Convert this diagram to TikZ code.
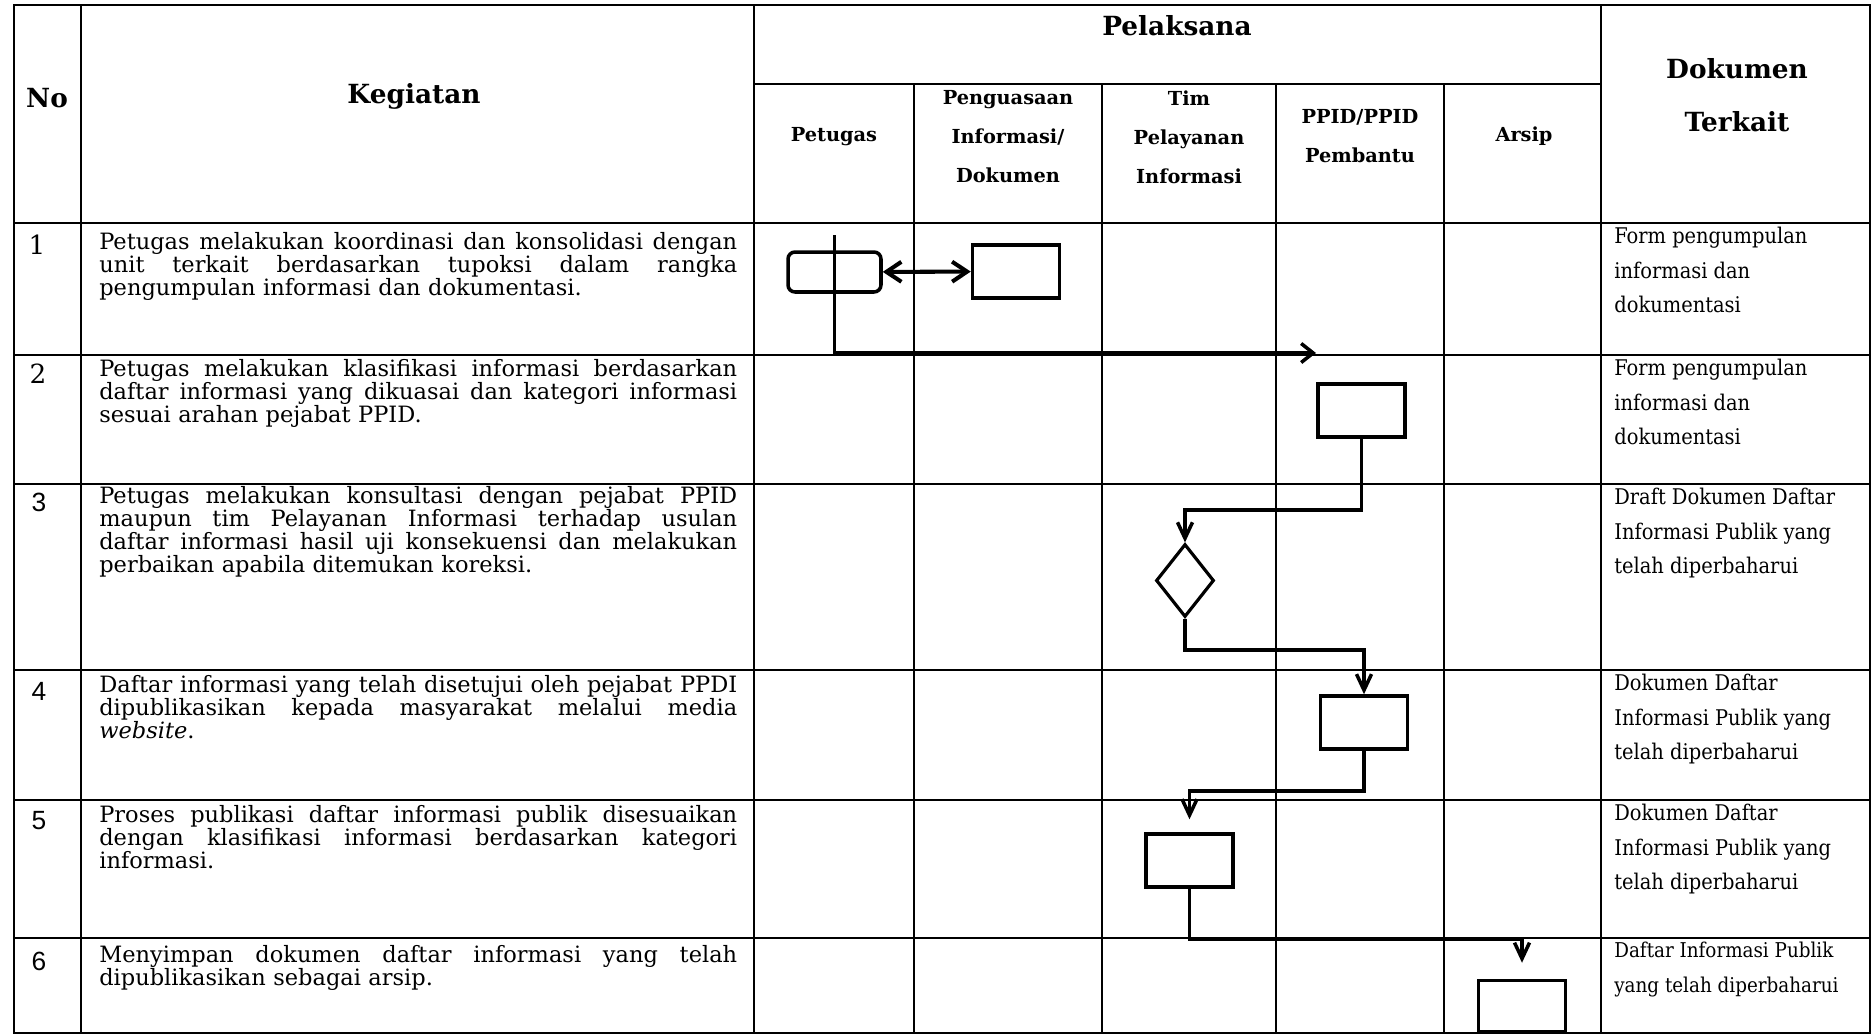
\documentclass[tikz,border=0pt]{standalone}
\usepackage{fontspec}
\setmainfont{DejaVu Serif}
\newfontfamily\docfont{DejaVu Serif Condensed}
\newfontfamily\numfont{Liberation Sans}
\usetikzlibrary{shapes.geometric}
\usetikzlibrary{arrows.meta}
\usetikzlibrary{positioning}

\newcommand{\fullline}[1]{\makebox[12.76cm][s]{\spaceskip=0pt\xspaceskip=0pt\relax #1}\\}

\begin{document}
\begin{tikzpicture}[x=0.02cm, y=-0.02cm]
	\tikzset{gridline/.style = {line width=0.9pt}}
	\tikzset{rowline/.style = {line width=1.3pt}}
	\tikzset{procbox/.style = {shape=rectangle, draw, line width=2pt,
			minimum width=1.74cm, minimum height=1.06cm, inner sep=0pt}}
	\tikzset{startbox/.style = {procbox, rounded corners=4pt,
			minimum width=1.86cm, minimum height=0.8cm}}
	\tikzset{decision/.style = {shape=diamond, draw, line width=1.8pt,
			minimum width=1.16cm, minimum height=1.46cm, inner sep=0pt}}
	\tikzset{flow/.style = {-{Straight Barb[length=3.2mm, width=3mm]}, line width=2pt}}
	\tikzset{flowbi/.style = {{Straight Barb[length=3mm, width=4mm]}-{Straight Barb[length=3mm, width=4mm]},
			line width=2.3pt}}
	\tikzset{head/.style = {font=\fontsize{15}{30}\selectfont\bfseries, align=center}}
	\tikzset{subhead/.style = {font=\fontsize{11}{22.2}\selectfont\bfseries, align=center}}
	\tikzset{task/.style = {anchor=north west, inner sep=0pt, text width=12.76cm,
			align=left, font=\fontsize{12.8}{13.1}\selectfont}}
	\tikzset{doc/.style = {anchor=north west, inner sep=0pt, align=left,
			font=\docfont\fontsize{12.3}{19.6}\selectfont}}
	\tikzset{num/.style = {font=\fontsize{15}{15}\selectfont}}
	\tikzset{numsans/.style = {font=\numfont\fontsize{15}{15}\selectfont}}
	
	\useasboundingbox (0,0) rectangle (1874,1035);
	\fill[white] (0,0) rectangle (1874,1035);
	
	% table
	\draw[rowline] (14,5) rectangle (1870,1033);
	\draw[gridline] (754,84) -- (1601,84);
	\foreach \x in {81,754,1601} \draw[rowline] (\x,5) -- (\x,1033);
	\foreach \x in {914,1102,1276,1444} \draw[gridline] (\x,84) -- (\x,1033);
	\foreach \y in {223,355,484,670,800,938} \draw[rowline] (14,\y) -- (1870,\y);
	
	% header
	\node[head] (hno) at (47,98) {No};
	\node[head] (hkeg) at (414,96) {Kegiatan};
	\node[head] (hpel) at (1177,26) {Pelaksana};
	\node[head] (hdok) at (1737,95) {Dokumen\\Terkait};
	\node[subhead] (hpet) at (834,137) {Petugas};
	\node[subhead] (hpen) at (1008,137) {Penguasaan\\Informasi/\\Dokumen};
	\node[subhead] (htim) at (1189,137) {Tim\\Pelayanan\\Informasi};
	\node[subhead] (hppid) at (1360,136) {PPID/PPID\\Pembantu};
	\node[subhead] (hars) at (1524,136) {Arsip};
	
	% rows
	\node[num] (n1) at (37,245) {1};
	\node[num] (n2) at (38,374) {2};
	\node[numsans] (n3) at (39,502) {3};
	\node[numsans] (n4) at (39,691) {4};
	\node[numsans] (n5) at (39,821) {5};
	\node[numsans] (n6) at (39,961) {6};
	
	\node[task] (t1) at (99,232) {\fullline{Petugas melakukan koordinasi dan konsolidasi dengan}%
		\fullline{unit terkait berdasarkan tupoksi dalam rangka}%
		pengumpulan informasi dan dokumentasi.};
	\node[task] (t2) at (99,359) {\fullline{Petugas melakukan klasifikasi informasi berdasarkan}%
		\fullline{daftar informasi yang dikuasai dan kategori informasi}%
		sesuai arahan pejabat PPID.};
	\node[task] (t3) at (99,486) {\fullline{Petugas melakukan konsultasi dengan pejabat PPID}%
		\fullline{maupun tim Pelayanan Informasi terhadap usulan}%
		\fullline{daftar informasi hasil uji konsekuensi dan melakukan}%
		perbaikan apabila ditemukan koreksi.};
	\node[task] (t4) at (99,675) {\fullline{Daftar informasi yang telah disetujui oleh pejabat PPDI}%
		\fullline{dipublikasikan kepada masyarakat melalui media}%
		\textit{website}.};
	\node[task] (t5) at (99,805) {\fullline{Proses publikasi daftar informasi publik disesuaikan}%
		\fullline{dengan klasifikasi informasi berdasarkan kategori}%
		informasi.};
	\node[task] (t6) at (99,945) {\fullline{Menyimpan dokumen daftar informasi yang telah}%
		dipublikasikan sebagai arsip.};
	
	\node[doc] (d1) at (1614,227) {Form pengumpulan\\informasi dan\\dokumentasi};
	\node[doc] (d2) at (1614,359) {Form pengumpulan\\informasi dan\\dokumentasi};
	\node[doc] (d3) at (1614,488) {Draft Dokumen Daftar\\Informasi Publik yang\\telah diperbaharui};
	\node[doc] (d4) at (1614,674) {Dokumen Daftar\\Informasi Publik yang\\telah diperbaharui};
	\node[doc] (d5) at (1614,804) {Dokumen Daftar\\Informasi Publik yang\\telah diperbaharui};
	\node[doc, font=\docfont\fontsize{11.6}{19.6}\selectfont] (d6) at (1614,942)
		{Daftar Informasi Publik\\yang telah diperbaharui};
	
	% vertices
	\node[startbox] (s1) at (834.5,272) {};
	\node[procbox] (p1) at (1016,271.5) {};
	\node[procbox] (p2) at (1361.5,410.5) {};
	\node[decision] (q3) at (1185,580.5) {};
	\node[procbox] (p4) at (1364,722.5) {};
	\node[procbox] (p5) at (1189.5,860.5) {};
	\node[procbox, minimum height=1.02cm] (p6) at (1522,1006) {};
	
	\coordinate (a0) at (834.5,235);
	\coordinate (a1) at (834.5,353);
	\coordinate (a2) at (1316,353);
	\coordinate (k2) at (1185,510);
	\coordinate (k3) at (1364,650);
	\coordinate (k4) at (1189.5,791);
	\coordinate (k5) at (1522,939);
	
	%edges
	\draw[flowbi] (s1) -- (p1);
	\draw[flow, -{Straight Barb[length=2.4mm, width=3.8mm]}] (a0) -- (a1) -- (a2);
	\draw[flow] (p2.south) |- (k2) -- (q3.north);
	\draw[flow] (q3.south) |- (k3) -- (p4.north);
	\draw[flow, shorten >=0.26cm] (p4.south) |- (k4) -- (p5.north);
	\draw[flow, shorten >=0.32cm] (p5.south) |- (k5) -- (p6.north);
	
\end{tikzpicture}
\end{document}
